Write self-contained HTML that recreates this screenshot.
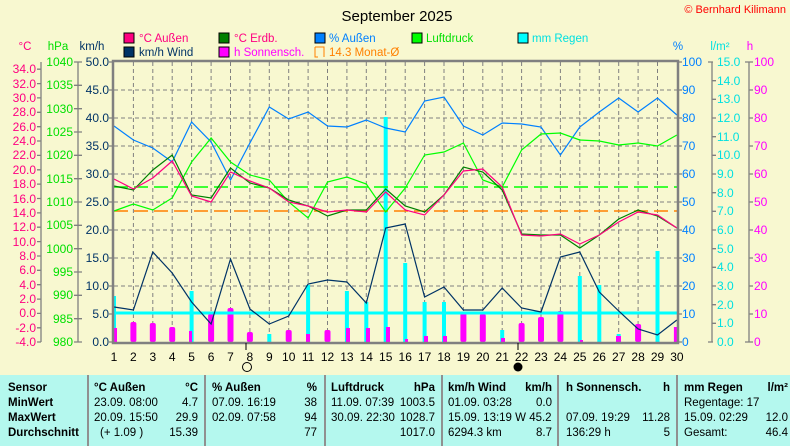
<!DOCTYPE html>
<html><head><meta charset="utf-8"><style>
html,body{margin:0;padding:0;background:#f8f8d0;}
svg{display:block;font-family:"Liberation Sans",sans-serif;}
</style></head><body>
<svg width="790" height="446" viewBox="0 0 790 446" xmlns="http://www.w3.org/2000/svg">
<rect width="790" height="446" fill="#f8f8d0"/>
<text x="397" y="21" font-size="15" text-anchor="middle" fill="#000">September 2025</text>
<text x="786" y="13" font-size="11" text-anchor="end" fill="#f00">© Bernhard Kilimann</text>
<!-- legend -->
<g font-size="11.5">
<rect x="124" y="33" width="10" height="10" fill="#ff0080" stroke="#000"/><text x="139" y="42" fill="#ff0080">°C  Außen</text>
<rect x="219" y="33" width="10" height="10" fill="#008000" stroke="#000"/><text x="234" y="42" fill="#ff0080">°C Erdb.</text>
<rect x="315" y="33" width="10" height="10" fill="#0080ff" stroke="#000"/><text x="329" y="42" fill="#0080ff">% Außen</text>
<rect x="412" y="33" width="10" height="10" fill="#00ff00" stroke="#000"/><text x="426" y="42" fill="#00e000">Luftdruck</text>
<rect x="518" y="33" width="10" height="10" fill="#00ffff" stroke="#000"/><text x="532" y="42" fill="#00e0e0">mm Regen</text>
<rect x="124" y="47" width="10" height="10" fill="#003366" stroke="#000"/><text x="139" y="56" fill="#003366">km/h Wind</text>
<rect x="219" y="47" width="10" height="10" fill="#ff00ff" stroke="#000"/><text x="234" y="56" fill="#ff00ff">h Sonnensch.</text>
<path d="M315 47 H324 V57 M315 47 V57 H318" fill="none" stroke="#ff8000"/><text x="329" y="56" fill="#ff8000">14.3 Monat-Ø</text>
</g>
<g font-size="11.5">
<text x="25" y="50" text-anchor="middle" fill="#ff0080">°C</text>
<text x="58" y="50" text-anchor="middle" fill="#00e000">hPa</text>
<text x="92" y="50" text-anchor="middle" fill="#003366">km/h</text>
<text x="678" y="50" text-anchor="middle" fill="#0080ff">%</text>
<text x="720" y="50" text-anchor="middle" fill="#00e0e0">l/m²</text>
<text x="750" y="50" text-anchor="middle" fill="#ff00ff">h</text>
</g>
<!-- plot -->
<g stroke="#808080" stroke-dasharray="4,3" stroke-width="1">
<path d="M133.4 62V342M152.8 62V342M172.2 62V342M191.6 62V342M211.1 62V342M230.5 62V342M249.9 62V342M269.3 62V342M288.7 62V342M308.1 62V342M327.5 62V342M346.9 62V342M366.3 62V342M385.7 62V342M405.2 62V342M424.6 62V342M444 62V342M463.4 62V342M482.8 62V342M502.2 62V342M521.6 62V342M541 62V342M560.4 62V342M579.8 62V342M599.3 62V342M618.7 62V342M638.1 62V342M657.5 62V342"/>
<path d="M114 90H677M114 118H677M114 146H677M114 174H677M114 202H677M114 230H677M114 258H677M114 286H677M114 314H677"/>
</g>
<!-- bars rain -->
<g fill="#00ffff">
<rect x="112" y="296" width="4" height="46"/><rect x="189.6" y="291" width="4" height="51"/><rect x="267.3" y="334" width="4" height="8"/><rect x="306.1" y="285" width="4" height="57"/><rect x="325.5" y="335" width="4" height="7"/><rect x="344.9" y="291" width="4" height="51"/><rect x="364.3" y="302" width="4" height="40"/><rect x="383.7" y="117" width="4" height="225"/><rect x="403.2" y="263" width="4" height="79"/><rect x="422.6" y="302" width="4" height="40"/><rect x="442" y="302" width="4" height="40"/><rect x="480.8" y="335" width="4" height="7"/><rect x="500.2" y="330" width="4" height="12"/><rect x="577.8" y="276" width="4" height="66"/><rect x="597.3" y="285" width="4" height="57"/><rect x="616.7" y="334" width="4" height="8"/><rect x="655.5" y="251" width="4" height="91"/>
</g>
<g fill="#ff00ff">
<rect x="114" y="328" width="3" height="14"/><rect x="130.4" y="322" width="6" height="20" rx="2"/><rect x="149.8" y="323" width="6" height="19" rx="2"/><rect x="169.2" y="327" width="6" height="15" rx="2"/><rect x="189" y="331" width="3" height="11"/><rect x="208.1" y="314" width="6" height="28" rx="2"/><rect x="227.5" y="308" width="6" height="34" rx="2"/><rect x="246.9" y="332" width="6" height="10" rx="2"/><rect x="285.7" y="330" width="6" height="12" rx="2"/><rect x="306" y="334" width="4" height="8"/><rect x="324.5" y="330" width="6" height="12" rx="2"/><rect x="346" y="328" width="4" height="14"/><rect x="366" y="328" width="4" height="14"/><rect x="386" y="327" width="4" height="15"/><rect x="405" y="339" width="3" height="3"/><rect x="424" y="336" width="4" height="6"/><rect x="443" y="336" width="4" height="6"/><rect x="460.4" y="313" width="6" height="29" rx="2"/><rect x="479.8" y="314" width="6" height="28" rx="2"/><rect x="501" y="338" width="4" height="4"/><rect x="518.6" y="323" width="6" height="19" rx="2"/><rect x="538" y="317" width="6" height="25" rx="2"/><rect x="557.4" y="311" width="6" height="31" rx="2"/><rect x="580" y="340" width="3" height="2"/><rect x="616" y="336" width="5" height="6"/><rect x="635.1" y="324" width="6" height="18" rx="2"/><rect x="673.9" y="327" width="4" height="15"/>
</g>
<line x1="114" y1="313" x2="677" y2="313" stroke="#00ffff" stroke-width="3"/>
<line x1="114" y1="187" x2="677" y2="187" stroke="#00ff00" stroke-width="1.5" stroke-dasharray="14,6"/>
<line x1="114" y1="211" x2="677" y2="211" stroke="#ff8000" stroke-width="1.5" stroke-dasharray="14,6"/>
<g fill="none" stroke-width="1.2">
<polyline stroke="#0080ff" points="114,126 133.4,140 152.8,148 172.2,162 191.6,122 211.1,142 230.5,180 249.9,143 269.3,107 288.7,119 308.1,112 327.5,126 346.9,127 366.3,120 385.7,128 405.2,132 424.6,101 444,97 463.4,126 482.8,135 502.2,123 521.6,124 541,127 560.4,155 579.8,127 599.3,112 618.7,98 638.1,112 657.5,98 676.9,115"/>
<polyline stroke="#00ff00" points="114,211 133.4,204 152.8,210 172.2,198 191.6,162 211.1,138 230.5,162 249.9,175 269.3,180 288.7,202 308.1,218 327.5,182 346.9,177 366.3,184 385.7,212 405.2,188 424.6,155 444,152 463.4,143 482.8,180 502.2,187 521.6,150 541,134 560.4,133 579.8,140 599.3,141 618.7,145 638.1,143 657.5,146 676.9,135"/>
<polyline stroke="#008000" points="114,186 133.4,190 152.8,170 172.2,155 191.6,195 211.1,198 230.5,168 249.9,183 269.3,188 288.7,200 308.1,206 327.5,216 346.9,210 366.3,210 385.7,189 405.2,206 424.6,212 444,195 463.4,167 482.8,172 502.2,190 521.6,234 541,235 560.4,235 579.8,248 599.3,235 618.7,219 638.1,210 657.5,216 676.9,228"/>
<polyline stroke="#ff0080" points="114,179 133.4,189 152.8,178 172.2,161 191.6,196 211.1,202 230.5,172 249.9,181 269.3,188 288.7,202 308.1,206 327.5,212 346.9,210 366.3,212 385.7,192 405.2,210 424.6,215 444,195 463.4,171 482.8,169 502.2,187 521.6,235 541,236 560.4,234 579.8,244 599.3,235 618.7,222 638.1,212 657.5,215 676.9,228"/>
<polyline stroke="#003366" points="114,307 133.4,310 152.8,252 172.2,273 191.6,302 211.1,324 230.5,259 249.9,309 269.3,324 288.7,316 308.1,284 327.5,280 346.9,282 366.3,303 385.7,228 405.2,224 424.6,297 444,287 463.4,310 482.8,310 502.2,288 521.6,308 541,312 560.4,257 579.8,252 599.3,292 618.7,311 638.1,329 657.5,335 676.9,320"/>
</g>
<rect x="113" y="61" width="565" height="282" fill="none" stroke="#808080" stroke-width="2.5"/>
<!-- left axes -->
<g stroke="#808080" stroke-width="1.3">
<path d="M41 62V342M78 62V342"/>
<path d="M37 69.2h4M37 83.6h4M37 97.9h4M37 112.3h4M37 126.7h4M37 141h4M37 155.4h4M37 169.8h4M37 184.1h4M37 198.5h4M37 212.9h4M37 227.2h4M37 241.6h4M37 256h4M37 270.3h4M37 284.7h4M37 299.1h4M37 313.4h4M37 327.8h4M37 342h4"/>
<path d="M74 62h8M74 85.3h8M74 108.7h8M74 132h8M74 155.3h8M74 178.7h8M74 202h8M74 225.3h8M74 248.7h8M74 272h8M74 295.3h8M74 318.7h8M74 342h8"/>
<path d="M109 62h5M109 90h5M109 118h5M109 146h5M109 174h5M109 202h5M109 230h5M109 258h5M109 286h5M109 314h5M109 342h5"/>
<path d="M677 62h5M677 90h5M677 118h5M677 146h5M677 174h5M677 202h5M677 230h5M677 258h5M677 286h5M677 314h5M677 342h5"/>
<path d="M712 62V342M749 62V342"/>
<path d="M708 62h5M712 80.7h4M712 99.3h4M712 118h4M712 136.7h4M712 155.3h4M712 174h4M712 192.7h4M712 211.3h4M712 230h4M712 248.7h4M712 267.3h4M712 286h4M712 304.7h4M712 323.3h4M708 342h5"/>
<path d="M745 62h8M749 90h4M749 118h4M749 146h4M749 174h4M749 202h4M749 230h4M749 258h4M749 286h4M749 314h4M745 342h8"/>
</g>
<g font-size="12" text-anchor="end" fill="#ff0080">
<text x="36" y="73">34.0</text><text x="36" y="88">32.0</text><text x="36" y="102">30.0</text><text x="36" y="116">28.0</text><text x="36" y="131">26.0</text><text x="36" y="145">24.0</text><text x="36" y="159">22.0</text><text x="36" y="174">20.0</text><text x="36" y="188">18.0</text><text x="36" y="203">16.0</text><text x="36" y="217">14.0</text><text x="36" y="231">12.0</text><text x="36" y="246">10.0</text><text x="36" y="260">8.0</text><text x="36" y="274">6.0</text><text x="36" y="289">4.0</text><text x="36" y="303">2.0</text><text x="36" y="317">0.0</text><text x="36" y="332">-2.0</text><text x="36" y="346">-4.0</text>
</g>
<g font-size="12" text-anchor="end" fill="#00e000">
<text x="73" y="66">1040</text><text x="73" y="89">1035</text><text x="73" y="113">1030</text><text x="73" y="136">1025</text><text x="73" y="159">1020</text><text x="73" y="183">1015</text><text x="73" y="206">1010</text><text x="73" y="229">1005</text><text x="73" y="253">1000</text><text x="73" y="276">995</text><text x="73" y="299">990</text><text x="73" y="323">985</text><text x="73" y="346">980</text>
</g>
<g font-size="12" text-anchor="end" fill="#003366">
<text x="109" y="66">50.0</text><text x="109" y="94">45.0</text><text x="109" y="122">40.0</text><text x="109" y="150">35.0</text><text x="109" y="178">30.0</text><text x="109" y="206">25.0</text><text x="109" y="234">20.0</text><text x="109" y="262">15.0</text><text x="109" y="290">10.0</text><text x="109" y="318">5.0</text><text x="109" y="346">0.0</text>
</g>
<g font-size="12" fill="#0080ff">
<text x="682" y="66">100</text><text x="682" y="94">90</text><text x="682" y="122">80</text><text x="682" y="150">70</text><text x="682" y="178">60</text><text x="682" y="206">50</text><text x="682" y="234">40</text><text x="682" y="262">30</text><text x="682" y="290">20</text><text x="682" y="318">10</text><text x="682" y="346">0</text>
</g>
<g font-size="12" fill="#00e0e0">
<text x="717" y="66">15.0</text><text x="717" y="85">14.0</text><text x="717" y="103">13.0</text><text x="717" y="122">12.0</text><text x="717" y="141">11.0</text><text x="717" y="159">10.0</text><text x="717" y="178">9.0</text><text x="717" y="197">8.0</text><text x="717" y="215">7.0</text><text x="717" y="234">6.0</text><text x="717" y="253">5.0</text><text x="717" y="271">4.0</text><text x="717" y="290">3.0</text><text x="717" y="309">2.0</text><text x="717" y="327">1.0</text><text x="717" y="346">0.0</text>
</g>
<g font-size="12" fill="#ff00ff">
<text x="754" y="66">100</text><text x="754" y="94">90</text><text x="754" y="122">80</text><text x="754" y="150">70</text><text x="754" y="178">60</text><text x="754" y="206">50</text><text x="754" y="234">40</text><text x="754" y="262">30</text><text x="754" y="290">20</text><text x="754" y="318">10</text><text x="754" y="346">0</text>
</g>
<g font-size="12" text-anchor="middle" fill="#000">
<text x="114" y="361">1</text><text x="133.4" y="361">2</text><text x="152.8" y="361">3</text><text x="172.2" y="361">4</text><text x="191.6" y="361">5</text><text x="211.1" y="361">6</text><text x="230.5" y="361">7</text><text x="249.9" y="361">8</text><text x="269.3" y="361">9</text><text x="288.7" y="361">10</text><text x="308.1" y="361">11</text><text x="327.5" y="361">12</text><text x="346.9" y="361">13</text><text x="366.3" y="361">14</text><text x="385.7" y="361">15</text><text x="405.2" y="361">16</text><text x="424.6" y="361">17</text><text x="444" y="361">18</text><text x="463.4" y="361">19</text><text x="482.8" y="361">20</text><text x="502.2" y="361">21</text><text x="521.6" y="361">22</text><text x="541" y="361">23</text><text x="560.4" y="361">24</text><text x="579.8" y="361">25</text><text x="599.3" y="361">26</text><text x="618.7" y="361">27</text><text x="638.1" y="361">28</text><text x="657.5" y="361">29</text><text x="676.9" y="361">30</text>
</g>
<path d="M246 343v7M518 343v7" stroke="#000"/>
<circle cx="247" cy="367" r="4.5" fill="#f8f8d0" stroke="#000"/>
<circle cx="518" cy="367" r="4.5" fill="#000"/>
<!-- table -->
<rect x="0" y="375" width="790" height="71" fill="#b4f8ee"/>
<g stroke="#909090" stroke-width="2"><path d="M88 375V446M205 375V446M325 375V446M442 375V446M558 375V446M677 375V446"/></g>
<g font-size="11.5" fill="#000">
<g font-weight="bold">
<text x="8" y="391">Sensor</text><text x="8" y="406">MinWert</text><text x="8" y="421">MaxWert</text><text x="8" y="436">Durchschnitt</text>
<text x="94" y="391">°C  Außen</text><text x="198" y="391" text-anchor="end">°C</text>
<text x="212" y="391">% Außen</text><text x="317" y="391" text-anchor="end">%</text>
<text x="331" y="391">Luftdruck</text><text x="435" y="391" text-anchor="end">hPa</text>
<text x="448" y="391">km/h Wind</text><text x="552" y="391" text-anchor="end">km/h</text>
<text x="566" y="391">h Sonnensch.</text><text x="670" y="391" text-anchor="end">h</text>
<text x="684" y="391">mm Regen</text><text x="788" y="391" text-anchor="end">l/m²</text>
</g>
<text x="94" y="406">23.09.  08:00</text><text x="198" y="406" text-anchor="end">4.7</text>
<text x="94" y="421">20.09.  15:50</text><text x="198" y="421" text-anchor="end">29.9</text>
<text x="100" y="436">(+ 1.09 )</text><text x="198" y="436" text-anchor="end">15.39</text>
<text x="212" y="406">07.09.  16:19</text><text x="317" y="406" text-anchor="end">38</text>
<text x="212" y="421">02.09.  07:58</text><text x="317" y="421" text-anchor="end">94</text>
<text x="317" y="436" text-anchor="end">77</text>
<text x="331" y="406">11.09.  07:39</text><text x="435" y="406" text-anchor="end">1003.5</text>
<text x="331" y="421">30.09.  22:30</text><text x="435" y="421" text-anchor="end">1028.7</text>
<text x="435" y="436" text-anchor="end">1017.0</text>
<text x="448" y="406">01.09.  03:28</text><text x="552" y="406" text-anchor="end">0.0</text>
<text x="448" y="421">15.09.  13:19  W 45.2</text>
<text x="448" y="436">6294.3 km</text><text x="552" y="436" text-anchor="end">8.7</text>
<text x="566" y="421">07.09.  19:29</text><text x="670" y="421" text-anchor="end">11.28</text>
<text x="566" y="436">136:29 h</text><text x="670" y="436" text-anchor="end">5</text>
<text x="684" y="406">Regentage: 17</text>
<text x="684" y="421">15.09.  02:29</text><text x="788" y="421" text-anchor="end">12.0</text>
<text x="684" y="436">Gesamt:</text><text x="788" y="436" text-anchor="end">46.4</text>
</g>
</svg>
</body></html>
